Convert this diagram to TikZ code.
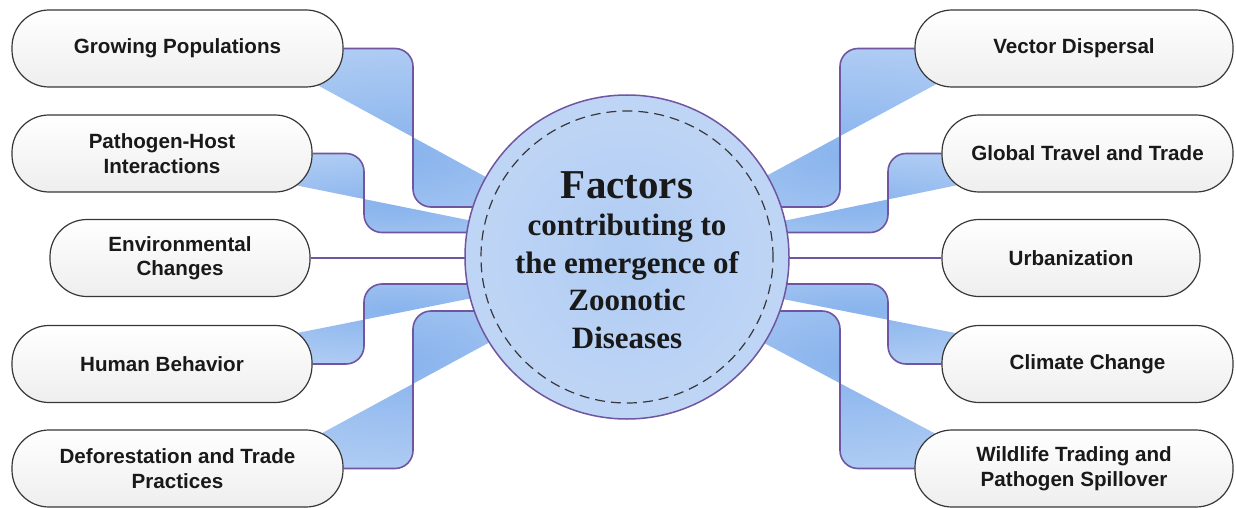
\documentclass[tikz,border=0pt]{standalone}
\usepackage{fontspec}
\newfontfamily\boxfont{Liberation Sans}
\newfontfamily\hubfont{Liberation Serif}
\usetikzlibrary{backgrounds}

\definecolor{linkpurple}{RGB}{112,86,160}
\definecolor{boxedge}{RGB}{55,55,55}
\definecolor{boxlow}{RGB}{238,238,238}
\definecolor{hubin}{RGB}{176,204,243}
\definecolor{hubout}{RGB}{207,223,248}
\definecolor{fanin}{RGB}{136,179,237}
\definecolor{fanout}{RGB}{212,228,249}
\definecolor{ink}{RGB}{25,25,25}
\definecolor{dashgray}{RGB}{55,55,60}

% soft blue fill of the hub and of the fans behind the connectors
\pgfdeclareradialshading{hubshade}{\pgfpoint{0bp}{0bp}}{color(0bp)=(hubin); color(50bp)=(hubout); color(100bp)=(hubout)}
\pgfdeclareradialshading{fanshade}{\pgfpoint{0bp}{0bp}}{color(0bp)=(fanin); color(50bp)=(fanout); color(100bp)=(fanout)}

\tikzset{
  factor/.style={draw=boxedge, line width=1.2pt, rounded corners=37pt,
    top color=white, bottom color=boxlow, minimum height=77pt, inner sep=0pt,
    align=center, text=ink, font=\boxfont\bfseries\fontsize{20.6}{24.5}\selectfont},
  hub/.style={circle, draw=linkpurple, line width=1.5pt, shade, shading=hubshade,
    minimum size=324pt, inner sep=0pt},
  ring/.style={circle, draw=dashgray, line width=1.2pt, dash pattern=on 10pt off 6pt,
    minimum size=292pt, inner sep=0pt},
  hubtitle/.style={text=ink, font=\hubfont\bfseries\fontsize{41}{41}\selectfont, inner sep=0pt},
  hubsub/.style={text=ink, align=center, font=\hubfont\bfseries\fontsize{31}{37.5}\selectfont, inner sep=0pt},
  link/.style={draw=linkpurple, line width=1.6pt, rounded corners=18pt},
  fan/.style={shade, shading=fanshade, rounded corners=18pt},
}

\begin{document}
\begin{tikzpicture}[x=1pt, y=-1pt, line join=round]
\useasboundingbox (0,0) rectangle (1236,508);

% central hub
\node[hub] (hub) at (627,257) {};
\node[ring] (ring) at (hub.center) {};
\node[hubtitle, anchor=base] (title) at (627,198) {Factors};
\node[hubsub] (subtitle) at (627,281.5) {contributing to\\the emergence of\\Zoonotic\\Diseases};

% left factors
\node[factor, minimum width=331pt] (gp) at (177.5,48.5) {Growing Populations};
\node[factor, minimum width=300pt] (ph) at (162,153.5) {Pathogen-Host\\Interactions};
\node[factor, minimum width=260pt] (ec) at (180,258) {Environmental\\Changes};
\node[factor, minimum width=300pt] (hb) at (162,364) {Human Behavior};
\node[factor, minimum width=331pt] (dt) at (177.5,468.5) {Deforestation and Trade\\Practices};

% right factors
\node[factor, minimum width=318pt] (vd) at (1074,48.5) {Vector Dispersal};
\node[factor, minimum width=291pt] (gt) at (1087.5,153.5) {Global Travel and Trade};
\node[factor, minimum width=258pt] (ub) at (1071,258) {Urbanization};
\node[factor, minimum width=291pt] (cc) at (1087.5,364) {Climate Change};
\node[factor, minimum width=318pt] (wt) at (1074,468.5) {Wildlife Trading and\\Pathogen Spillover};

\begin{pgfonlayer}{background}
  % blue fans between each connector and a straight chord
  \path[fan] (gp.center) -| (413,207) -| (hub.center) -- (530.6,201.4) -- (288,69) -- cycle;
  \path[fan] (ph.center) -| (364,232.5) -| (hub.center) -- (552,237) -- (250,176) -- cycle;
  \path[fan] (hb.center) -| (364,284) -| (hub.center) -- (553,282) -- (247,343) -- cycle;
  \path[fan] (dt.center) -| (413,311) -| (hub.center) -- (538,316) -- (289,451) -- cycle;
  \path[fan] (vd.center) -| (840,207) -| (hub.center) -- (718,202) -- (968,67) -- cycle;
  \path[fan] (gt.center) -| (888,232.5) -| (hub.center) -- (703,237.5) -- (1009,174.5) -- cycle;
  \path[fan] (cc.center) -| (888,284) -| (hub.center) -- (704,283.5) -- (1006,343) -- cycle;
  \path[fan] (wt.center) -| (840,311) -| (hub.center) -- (713,316) -- (968,451) -- cycle;

  % connectors
  \draw[link] (gp.east) -| (413,207) -| (hub.center);
  \draw[link] (ph.east) -| (364,232.5) -| (hub.center);
  \draw[link] (ec.east) -- (ec.east -| hub.center);
  \draw[link] (hb.east) -| (364,284) -| (hub.center);
  \draw[link] (dt.east) -| (413,311) -| (hub.center);
  \draw[link] (vd.west) -| (840,207) -| (hub.center);
  \draw[link] (gt.west) -| (888,232.5) -| (hub.center);
  \draw[link] (ub.west) -- (ub.west -| hub.center);
  \draw[link] (cc.west) -| (888,284) -| (hub.center);
  \draw[link] (wt.west) -| (840,311) -| (hub.center);
\end{pgfonlayer}
\end{tikzpicture}
\end{document}
